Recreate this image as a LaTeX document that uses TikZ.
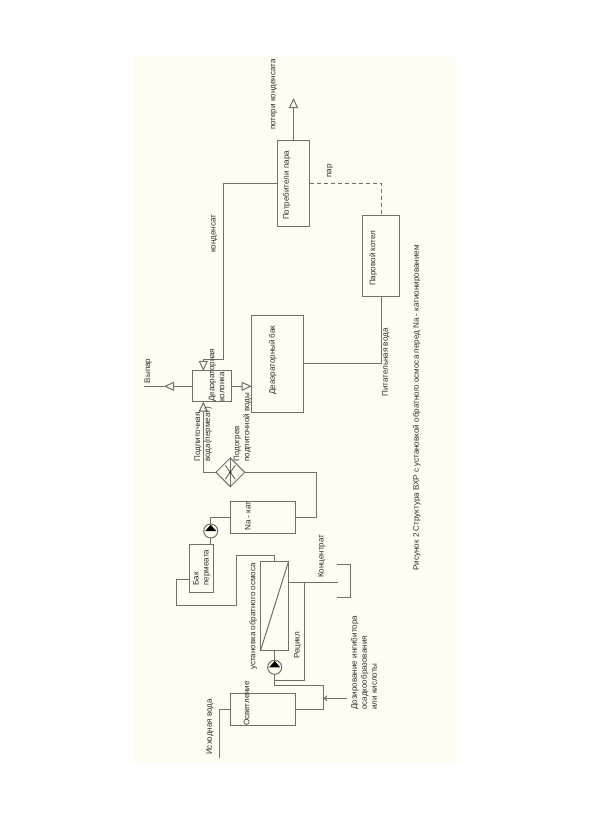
\documentclass[tikz,border=0pt]{standalone}
\usepackage{fontspec}
\setmainfont{Liberation Sans}
\usetikzlibrary{arrows.meta, shapes.geometric}
\definecolor{VHRpaper}{HTML}{FFFDF2}
\definecolor{VHRline}{HTML}{6F6F6B}
\definecolor{VHRtext}{HTML}{2E2E2C}
\begin{document}
\begin{tikzpicture}[
      x=1pt, y=-1pt,
      box/.style={draw=VHRline, line width=1pt, inner sep=0pt, outer sep=0pt},
      pump/.style={circle, draw=VHRline, line width=1pt, fill=VHRpaper, minimum size=14pt, inner sep=0pt, outer sep=0pt},
      pipe/.style={draw=VHRline, line width=1pt},
      arr/.style={pipe, -{Triangle[open, length=10pt, width=9pt]}},
      lbl/.style={rotate=90, anchor=west, inner sep=0pt, align=left, text=VHRtext,
                  font=\fontsize{8.05}{10}\selectfont}
   ]
      \useasboundingbox (0,0) rectangle (591,819);
      \fill[white] (0,0) rectangle (591,819);
      \fill[VHRpaper] (134,57) rectangle (457,762);

      % equipment
      \node[box, minimum width=32.4pt, minimum height=86pt] (consumer) at (293.5,183) {};
      \node[box, minimum width=36.6pt, minimum height=80.7pt] (boiler) at (381,256.3) {};
      \node[box, minimum width=51.6pt, minimum height=97.3pt] (tank) at (277.5,363.7) {};
      \node[box, minimum width=39.4pt, minimum height=30.7pt] (column) at (212,386.3) {};
      \node[box, minimum width=65.4pt, minimum height=32.3pt] (nakat) at (263,517.2) {};
      \node[box, minimum width=24pt, minimum height=47.6pt] (permtank) at (201.3,568.5) {};
      \node[box, minimum width=28pt, minimum height=89pt] (ro) at (274.7,605.5) {};
      \node[box, minimum width=65pt, minimum height=32.4pt] (clarifier) at (262.8,709.5) {};
      \node[box, diamond, minimum width=28.8pt, minimum height=28.8pt] (heater) at (230.3,472.3) {};
      \node[pump] (pumpA) at (210.7,531) {};
      \node[pump] (pumpB) at (274.7,667.3) {};

      % free ends and bends
      \coordinate (lossEnd) at (293.5,98);
      \coordinate (ventTip) at (164,386.3);
      \coordinate (ventEnd) at (144,386.3);
      \coordinate (kondBend) at (223.3,359);
      \coordinate (kondIn) at (203.3,359);
      \coordinate (steamBend) at (381,183);
      \coordinate (heatBend) at (316.7,472.3);
      \coordinate (loopA) at (176,579.3);
      \coordinate (loopB) at (176,605.7);
      \coordinate (loopC) at (236.7,605.7);
      \coordinate (loopD) at (236.7,555.7);
      \coordinate (loopE) at (274.7,555.7);
      \coordinate (concT) at (304.7,582.3);
      \coordinate (concEnd) at (338.3,582.3);
      \coordinate (recEnd) at (274.7,680.7);
      \coordinate (mixA) at (274.7,685.7);
      \coordinate (mixB) at (323.3,685.7);
      \coordinate (mixC) at (323.3,698.3);
      \coordinate (doseEnd) at (347.3,698.3);
      \coordinate (rawBend) at (219.3,709.5);
      \coordinate (rawEnd) at (219.3,758.3);
      \coordinate (drainA) at (336.7,564);
      \coordinate (drainB) at (350.7,564);
      \coordinate (drainC) at (350.7,597.3);
      \coordinate (drainD) at (336.7,597.3);

      % connectors
      \draw[arr] (consumer.north) -- (lossEnd);
      \draw[pipe] (consumer.west) -| (kondBend) -- (kondIn);
      \draw[arr] (kondIn) -- (kondIn |- column.north);
      \draw[pipe, dashed, dash pattern=on 4pt off 3pt] (consumer.east) -- (steamBend) -- (boiler.north);
      \draw[pipe] (boiler.south) |- (tank.east);
      \draw[arr] (column.west) -- (ventTip);
      \draw[pipe] (ventTip) -- (ventEnd);
      \draw[arr] (column.east) -- (tank.west |- column.east);
      \draw[arr] (heater.west) -| (kondIn |- column.south);
      \draw[pipe] (heater.east) -- (heatBend) |- (nakat.east);
      \draw[pipe] (nakat.west) -| (pumpA.north);
      \draw[pipe] (pumpA.south) -- (pumpA.south |- permtank.north);
      \draw[pipe] (permtank.west |- loopA) -- (loopA) -- (loopB) -- (loopC) -- (loopD) -- (loopE) -- (ro.north);
      \draw[pipe] (ro.south) -- (pumpB.north);
      \draw[pipe] (pumpB.south) -- (mixA) -- (mixB) -- (mixC) |- (clarifier.east);
      \draw[pipe] (ro.east |- concT) -- (concEnd);
      \draw[pipe] (concT) -- (concT |- recEnd) -- (recEnd);
      \draw[pipe] (drainA) -- (drainB) -- (drainC) -- (drainD);
      \draw[pipe, -{Straight Barb[length=3pt, width=5pt]}] (doseEnd) -- (mixC);
      \draw[pipe] (clarifier.west) -- (rawBend) -- (rawEnd);

      % inner marks
      \draw[pipe] (ro.north east) -- (ro.south west);
      \draw[pipe] (heater.north) -- (heater.south);
      \draw[pipe] ([shift={(-5,-7)}]heater.center) -- ([shift={(5,7)}]heater.center);
      \draw[pipe] ([shift={(-5,7)}]heater.center) -- ([shift={(5,-7)}]heater.center);
      \fill[VHRtext] (heater.center) circle (1.2pt);
      \foreach \pumpname in {pumpA, pumpB} {
         \fill[black] ([shift={(-5.5,0)}]\pumpname.center) -- ([shift={(5.5,0)}]\pumpname.center)
            -- ([shift={(0,-6.3)}]\pumpname.center) -- cycle;
      }

      % labels
      \node[lbl] (tLoss) at (274,130) {потери конденсата};
      \node[lbl] (tConsumer) at (286.7,220) {Потребители пара};
      \node[lbl] (tSteam) at (330,178) {пар};
      \node[lbl] (tKond) at (214.3,253) {конденсат};
      \node[lbl] (tBoiler) at (373.3,286) {Паровой котел};
      \node[lbl] (tFeed) at (386,396.7) {Питательная вода};
      \node[lbl] (tTank) at (272.7,395) {Деаэраторный бак};
      \node[lbl] (tColumn) at (216.7,402) {Деаэраторная\\колонка};
      \node[lbl] (tVent) at (148.3,383.3) {Выпар};
      \node[lbl] (tMakeup) at (203.3,461.7) {Подпиточная,\\вода(пермеат)};
      \node[lbl] (tHeat) at (242.3,461.7) {Подогрев\\подпиточной воды};
      \node[lbl] (tNa) at (248,531) {Na - кат};
      \node[lbl] (tPerm) at (201.7,585.7) {Бак\\пермеата};
      \node[lbl] (tRo) at (253.3,670) {установка обратного осмоса};
      \node[lbl] (tConc) at (321.7,578) {Концентрат};
      \node[lbl] (tRec) at (297.7,659) {Рецикл};
      \node[lbl] (tClar) at (246.7,726) {Осветление};
      \node[lbl] (tRaw) at (210,755) {Исходная вода};
      \node[lbl] (tDose) at (364,710) {Дозирование ингибитора\\осадкообразования\\или кислоты};
      \node[lbl] (tCaption) at (416.7,570.7) {Рисунок 2 Структура ВХР с установкой обратного осмоса перед Na - катионированием};
   \end{tikzpicture}
\end{document}
